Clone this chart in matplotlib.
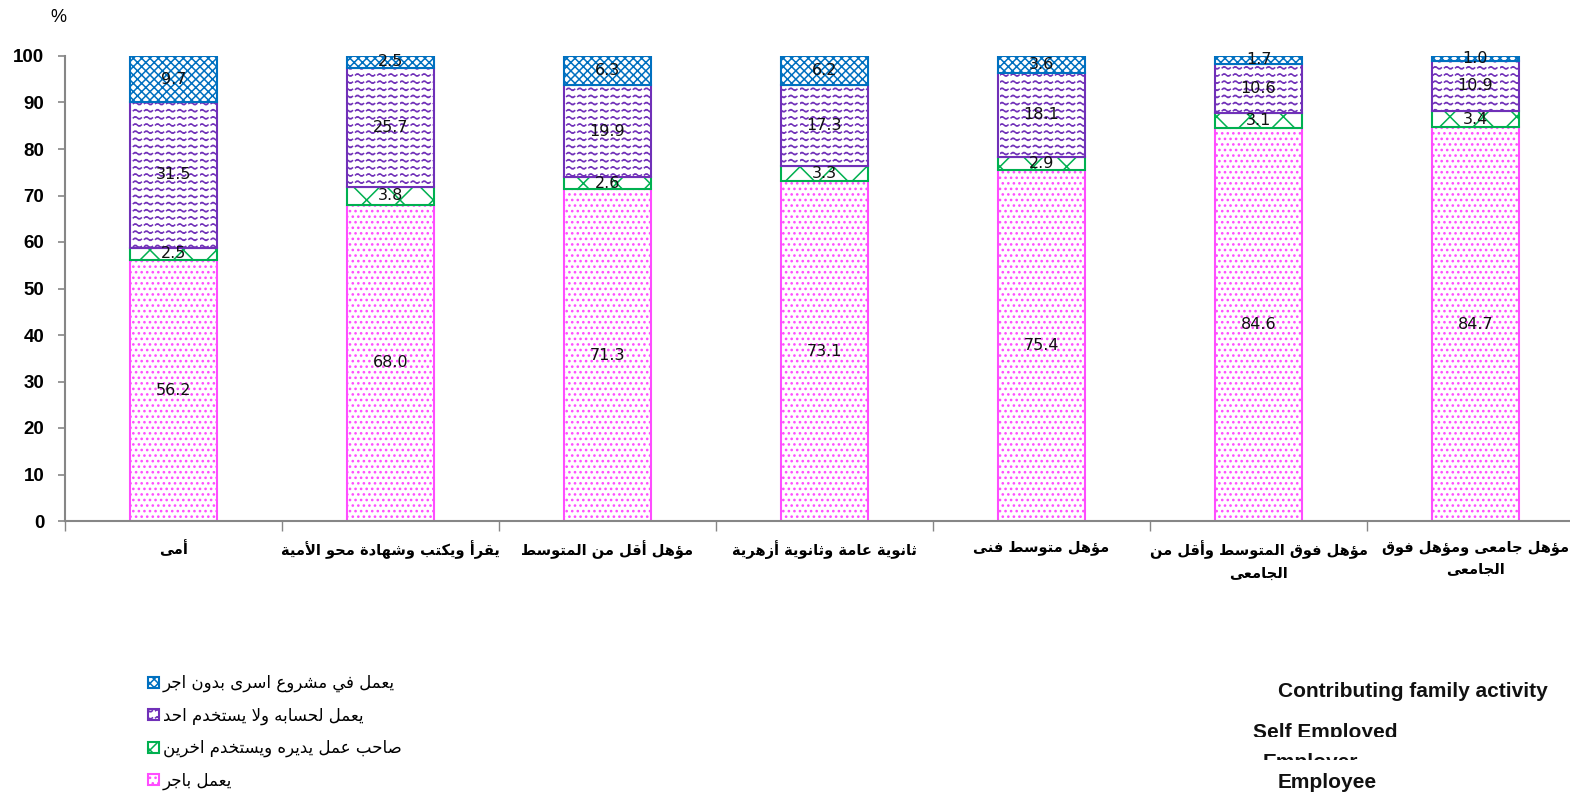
import warnings
import numpy as np
import matplotlib
matplotlib.use('Agg')
import matplotlib.pyplot as plt
import matplotlib.hatch as mhatch
from matplotlib.path import Path as MPath
from matplotlib.transforms import Bbox, TransformedBbox

warnings.filterwarnings('ignore')

# Data
categories = ['أمى', 'يقرأ ويكتب وشهادة محو الأمية', 'مؤهل أقل من المتوسط',
              'ثانوية عامة وثانوية أزهرية', 'مؤهل متوسط فنى',
              'مؤهل فوق المتوسط وأقل من\nالجامعى', 'مؤهل جامعى ومؤهل فوق\nالجامعى']
employee = [56.2, 68.0, 71.3, 73.1, 75.4, 84.6, 84.7]
employer = [2.5, 3.8, 2.6, 3.3, 2.9, 3.1, 3.4]
self_employed = [31.5, 25.7, 19.9, 17.3, 18.1, 10.6, 10.9]
family = [9.7, 2.5, 6.3, 6.2, 3.6, 1.7, 1.0]
series_ar = ['يعمل باجر', 'صاحب عمل يديره ويستخدم اخرين',
             'يعمل لحسابه ولا يستخدم احد', 'يعمل في مشروع اسرى بدون اجر']
series_en = ['Employee', 'Employer', 'Self Employed', 'Contributing family activity']
yticks = [0, 10, 20, 30, 40, 50, 60, 70, 80, 90, 100]

# --- minimal Arabic shaping (presentation forms + RTL order) ---
_dual = {'ئ': 0xFE89, 'ب': 0xFE8F, 'ت': 0xFE95, 'ث': 0xFE99, 'ج': 0xFE9D, 'ح': 0xFEA1,
         'خ': 0xFEA5, 'س': 0xFEB1, 'ش': 0xFEB5, 'ص': 0xFEB9, 'ض': 0xFEBD, 'ط': 0xFEC1,
         'ظ': 0xFEC5, 'ع': 0xFEC9, 'غ': 0xFECD, 'ف': 0xFED1, 'ق': 0xFED5, 'ك': 0xFED9,
         'ل': 0xFEDD, 'م': 0xFEE1, 'ن': 0xFEE5, 'ه': 0xFEE9, 'ي': 0xFEF1}
_right = {'آ': 0xFE81, 'أ': 0xFE83, 'ؤ': 0xFE85, 'إ': 0xFE87, 'ا': 0xFE8D, 'ة': 0xFE93,
          'د': 0xFEA9, 'ذ': 0xFEAB, 'ر': 0xFEAD, 'ز': 0xFEAF, 'و': 0xFEED, 'ى': 0xFEEF}
_lamalef = {'آ': 0xFEF5, 'أ': 0xFEF7, 'إ': 0xFEF9, 'ا': 0xFEFB}


def ar_line(text):
    res = []
    i = 0
    while i < len(text):
        c = text[i]
        prev = text[i - 1] if i > 0 else ' '
        cprev = prev in _dual
        if c == 'ل' and i + 1 < len(text) and text[i + 1] in _lamalef:
            res.append(chr(_lamalef[text[i + 1]] + (1 if cprev else 0)))
            i += 2
            continue
        nxt = text[i + 1] if i + 1 < len(text) else ' '
        cnext = c in _dual and (nxt in _dual or nxt in _right)
        if c in _dual:
            form = 3 if (cprev and cnext) else 2 if cnext else 1 if cprev else 0
            res.append(chr(_dual[c] + form))
        elif c in _right:
            res.append(chr(_right[c] + (1 if cprev else 0)))
        else:
            res.append(c)
        i += 1
    return ''.join(res[::-1])


def ar(text):
    return '\n'.join(ar_line(t) for t in text.split('\n'))


# --- custom wavy (dashed) hatch for the self-employed series ---
class WaveHatch(mhatch.HatchPatternBase):
    periods = 9
    k = 7

    def __init__(self, hatch, density):
        self.num_rows = int(hatch.count('~') * density * 7 // 12)
        self.num_vertices = self.num_rows * self.periods * self.k

    def set_vertices_and_codes(self, vertices, codes):
        p = 1.0 / self.periods
        t = np.linspace(0, 0.72, self.k)
        seg_x = t * p
        seg_y = 0.012 * np.sin(2 * np.pi * t / 0.72)
        n = 0
        for i in range(self.num_rows):
            y0 = (i + 0.5) / self.num_rows
            for j in range(self.periods):
                vertices[n:n + self.k, 0] = j * p + seg_x
                vertices[n:n + self.k, 1] = y0 + seg_y
                codes[n:n + self.k] = MPath.LINETO
                codes[n] = MPath.MOVETO
                n += self.k


mhatch._hatch_types.append(WaveHatch)
mhatch._validate_hatch_pattern = lambda h: None

fig = plt.figure(figsize=(15.7, 8.02), dpi=100)
fig.patch.set_facecolor('white')
ax = fig.add_axes([65 / 1570, 281 / 802, 1519 / 1570, 465 / 802])

x = np.arange(len(categories))
width = 0.4
plt.rcParams['hatch.linewidth'] = 1.1

styles = [
    dict(edgecolor='#FF4DFF', hatch='...'),
    dict(edgecolor='#00B050', hatch='x'),
    dict(edgecolor='#7030B8', hatch='~~~~'),
    dict(edgecolor='#0070C0', hatch='xxxx'),
]
values = [employee, employer, self_employed, family]
bottom = np.zeros(len(categories))
handles = []
for vals, st, lab in zip(values, styles, series_ar):
    vals = np.array(vals)
    b = ax.bar(x, vals, width, bottom=bottom, color='white', linewidth=1.5,
               label=ar(lab), **st)
    handles.append(b)
    for xi, v, b0 in zip(x, vals, bottom):
        ax.text(xi, b0 + v / 2, f'{v:.1f}', ha='center', va='center',
                fontsize=11.5, family='DejaVu Sans', color='#111111')
    bottom += vals

ax.set_xlim(-0.5, 6.5)
ax.set_ylim(0, 100)
ax.set_yticks(yticks)
ax.set_yticklabels([str(t) for t in yticks], fontsize=13.5, fontweight='bold',
                   family='Liberation Sans')
ax.tick_params(axis='y', length=5, width=1.2, color='#868686', pad=10)
ax.set_xticks(x)
ax.set_xticklabels([ar(c) for c in categories], fontsize=10.5, fontweight='bold',
                   family='DejaVu Sans', va='top', linespacing=1.55)
ax.tick_params(axis='x', length=0, pad=14)
ax.set_xticks(np.arange(-0.5, 7.0, 1.0), minor=True)
ax.tick_params(axis='x', which='minor', length=7, width=1.0, color='#868686')
for s in ['top', 'right']:
    ax.spines[s].set_visible(False)
for s in ['left', 'bottom']:
    ax.spines[s].set_color('#868686')
    ax.spines[s].set_linewidth(1.5)

fig.text(58 / 1570, 1 - 18 / 802, '%', fontsize=13, family='Liberation Sans',
         ha='center', va='center')

leg = fig.legend(handles[::-1], [ar(s) for s in series_ar[::-1]],
                 loc='upper left', bbox_to_anchor=(133 / 1570, 1 - 659 / 802),
                 frameon=False, prop={'family': 'DejaVu Sans', 'size': 12},
                 handlelength=0.65, handleheight=0.65, handletextpad=0.25,
                 labelspacing=0.85)

# English series names (right side), partly clipped as in the source
en_pos = {
    'Contributing family activity': (1278, 697, None),
    'Self Employed': (1253, 738, 737),
    'Employer': (1263, 768, 760),
    'Employee': (1278, 788, None),
}
for name in series_en[::-1]:
    px, py, clip = en_pos[name]
    t = fig.text(px / 1570, 1 - py / 802, name, fontsize=15, fontweight='bold',
                 family='Liberation Sans', ha='left', va='baseline', color='#111111')
    if clip is not None:
        bb = Bbox([[0.7, 1 - clip / 802], [1.0, 1.0]])
        t.set_clip_box(TransformedBbox(bb, fig.transFigure))
        t.set_clip_on(True)

fig.savefig('out.png', dpi=100, facecolor='white')
